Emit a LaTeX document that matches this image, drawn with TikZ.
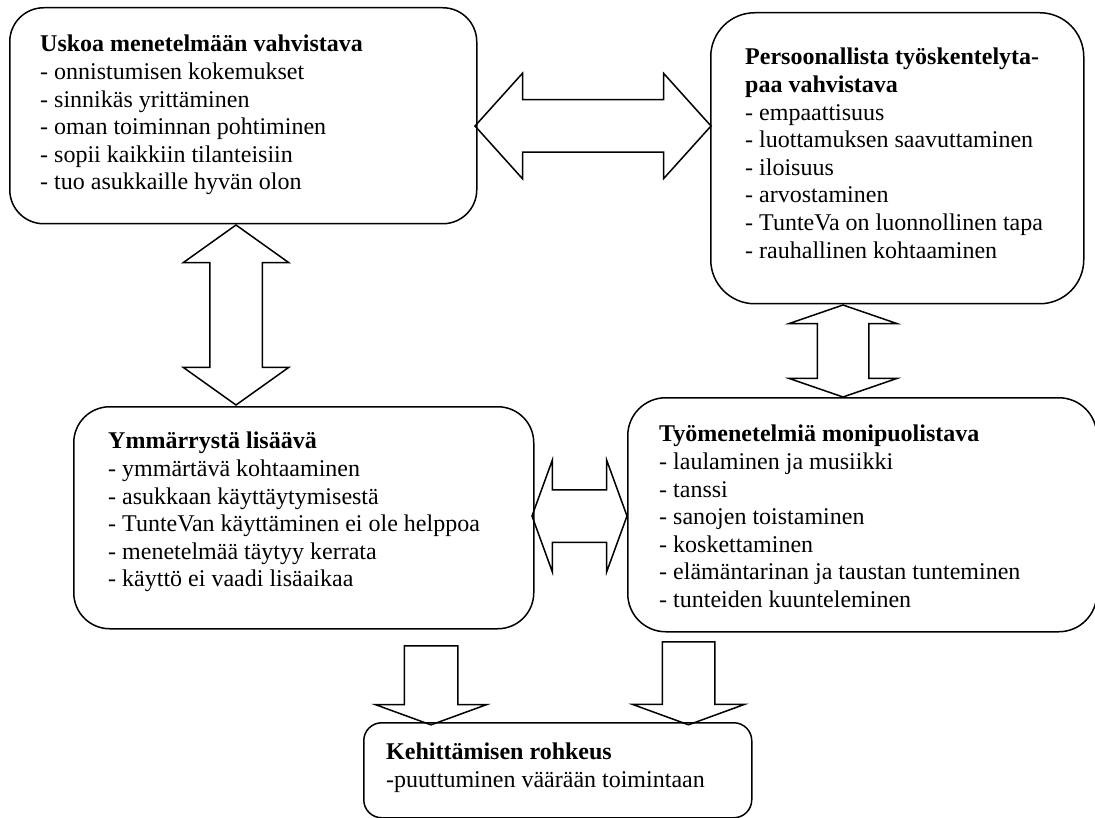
\documentclass[tikz,border=0pt]{standalone}
\usepackage{fontspec}
\setmainfont{Liberation Serif}
\usetikzlibrary{positioning,shapes.arrows}
\tikzset{
  teemabox/.style={draw, line width=1.5pt, anchor=north west, inner sep=0pt},
  teksti/.style={align=left, inner sep=0pt, anchor=north west,
    font=\fontsize{24}{27.6}\selectfont},
  kaksisuunta/.style={double arrow, draw, line width=1.5pt, inner xsep=0pt,
    minimum width=0pt},
  yksisuunta/.style={single arrow, draw, line width=1.5pt, inner xsep=0pt,
    minimum width=0pt, rotate=-90}
}

\begin{document}
\begin{tikzpicture}[x=1pt, y=-1pt]
  \useasboundingbox (0,0) rectangle (1095,818);
  % laatikot
  \node[teemabox, rounded corners=34pt, minimum width=467pt, minimum height=216pt] (usko) at (9,7) {};
  \node[teemabox, rounded corners=44pt, minimum width=373pt, minimum height=291pt] (persoona) at (710,12) {};
  \node[teemabox, rounded corners=36pt, minimum width=460pt, minimum height=222pt] (ymmarrys) at (73,406) {};
  \node[teemabox, rounded corners=38pt, minimum width=469pt, minimum height=234pt] (menetelmat) at (627,397) {};
  \node[teemabox, rounded corners=18pt, minimum width=388pt, minimum height=95pt] (rohkeus) at (363,722) {};
  % tekstit
  \node[teksti, below right=28pt and 31pt of usko.north west] (uskoteksti)
    {\textbf{Uskoa menetelmään vahvistava}\\- onnistumisen kokemukset\\- sinnikäs yrittäminen\\- oman toiminnan pohtiminen\\- sopii kaikkiin tilanteisiin\\- tuo asukkaille hyvän olon};
  \node[teksti, below right=36pt and 35pt of persoona.north west] (persoonateksti)
    {\textbf{Persoonallista työskentelyta-}\\\textbf{paa vahvistava}\\- empaattisuus\\- luottamuksen saavuttaminen\\- iloisuus\\- arvostaminen\\- TunteVa on luonnollinen tapa\\- rauhallinen kohtaaminen};
  \node[teksti, below right=26pt and 35pt of ymmarrys.north west] (ymmarrysteksti)
    {\textbf{Ymmärrystä lisäävä}\\- ymmärtävä kohtaaminen\\- asukkaan käyttäytymisestä\\- TunteVan käyttäminen ei ole helppoa\\- menetelmää täytyy kerrata\\- käyttö ei vaadi lisäaikaa};
  \node[teksti, below right=28pt and 32pt of menetelmat.north west] (menetelmateksti)
    {\textbf{Työmenetelmiä monipuolistava}\\- laulaminen ja musiikki\\- tanssi\\- sanojen toistaminen\\- koskettaminen\\- elämäntarinan ja taustan tunteminen\\- tunteiden kuunteleminen};
  \node[teksti, below right=21pt and 23pt of rohkeus.north west] (rohkeusteksti)
    {\textbf{Kehittämisen rohkeus}\\-puuttuminen väärään toimintaan};
  % nuolet
  \node[kaksisuunta, minimum height=236pt, inner ysep=25.5pt, double arrow head extend=26.5pt,
    double arrow tip angle=96] (usko-persoona) at (593,126) {};
  \node[kaksisuunta, rotate=90, minimum height=180pt, inner ysep=25.5pt, double arrow head extend=26.5pt,
    double arrow tip angle=109] (usko-ymmarrys) at (236,315) {};
  \node[kaksisuunta, rotate=90, minimum height=92pt, inner ysep=25pt, double arrow head extend=28pt,
    double arrow tip angle=142] (persoona-menetelmat) at (843,351) {};
  \node[kaksisuunta, minimum height=95pt, inner ysep=25.5pt, double arrow head extend=29.5pt,
    double arrow tip angle=140] (ymmarrys-menetelmat) at (579.5,516) {};
  \node[yksisuunta, minimum height=79pt, inner ysep=26pt, single arrow head extend=29pt,
    single arrow tip angle=140] (ymmarrys-rohkeus) at (431,680.5) {};
  \node[yksisuunta, minimum height=83pt, inner ysep=25.5pt, single arrow head extend=29.5pt,
    single arrow tip angle=140] (menetelmat-rohkeus) at (688.5,678.5) {};
\end{tikzpicture}
\end{document}
